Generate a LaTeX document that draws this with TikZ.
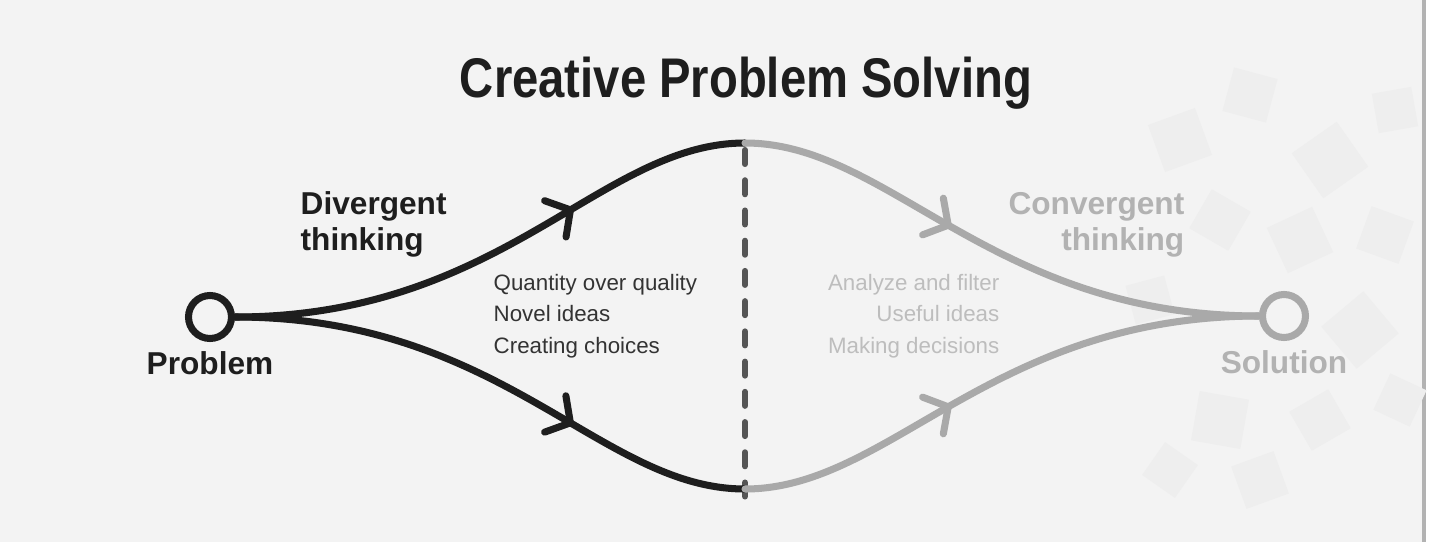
\documentclass[tikz,border=0pt]{standalone}
\usepackage{fontspec}
\setmainfont{Liberation Sans}
\usepackage{graphicx}
\usetikzlibrary{arrows.meta,decorations.markings,positioning}

\definecolor{ink}{HTML}{1E1E1E}
\definecolor{dashgray}{HTML}{555555}
\definecolor{fadeline}{HTML}{A9A9A9}
\definecolor{fadetext}{HTML}{B2B2B2}
\definecolor{fadebody}{HTML}{BDBDBD}
\definecolor{bodytext}{HTML}{333333}
\definecolor{paper}{HTML}{F3F3F3}
\definecolor{leafgray}{HTML}{EEEEEE}

\tikzset{
  flow/.style={line width=2pt, line cap=round, postaction={decorate}},
  midarrow/.style={decoration={markings, mark=at position #1 with {\arrow{Straight Barb[length=5pt,width=12pt,round]}}}},
  endpoint/.style={circle, draw, line width=2pt, minimum size=4.3mm, inner sep=0pt},
  divider/.style={dashgray, line width=1.7pt, line cap=round, dash pattern=on 4pt off 4.6pt},
  heading/.style={font=\bfseries\fontsize{9}{10.2}\selectfont, inner sep=0pt},
  notes/.style={font=\fontsize{6.35}{8.96}\selectfont, inner sep=0pt},
}

\begin{document}
\begin{tikzpicture}[x=0.1mm, y=-0.1mm]
\useasboundingbox (0,0) rectangle (1435,542);
% paper and faint tree
\fill[paper] (0,0) rectangle (1423,542);
\fill[white] (1423,0) rectangle (1435,542);
\draw[gray!60, line width=1pt] (1424,0) -- (1424,542);
\foreach \lx/\ly/\la/\ls in {1180/140/20/50, 1250/95/-15/45, 1330/160/35/55, 1395/110/10/40,
  1220/220/-30/45, 1300/240/25/50, 1385/235/-20/45, 1150/300/15/40, 1360/330/40/55,
  1220/420/-10/50, 1320/420/30/45, 1400/400/-25/40, 1260/480/20/45, 1170/470/-35/40}
  \fill[leafgray, shift={(\lx,\ly)}, rotate=\la] (-\ls/2,-\ls/2) rectangle (\ls/2,\ls/2);

\node[anchor=base, color=ink, font=\bfseries\fontsize{15.9}{18}\selectfont] (title) at (746,97)
  {\scalebox{0.845}[1]{Creative Problem Solving}};

\node[endpoint, draw=ink] (prob) at (210,317) {};
\node[heading, anchor=base, color=ink] (problabel) at (210,374) {Problem};
\node[endpoint, draw=fadeline] (sol) at (1284,316) {};
\node[heading, anchor=base, color=fadetext] (sollabel) at (1284,373) {Solution};

\coordinate (top) at (745,143);
\coordinate (bot) at (745,489);
\coordinate (dtop) at (745,150);
\coordinate (dbot) at (745,512);

\draw[divider] (dtop) -- (dbot);

\draw[flow, midarrow=0.66, color=ink] (prob.east) .. controls +(268,0) and +(-145,0) .. (top);
\draw[flow, midarrow=0.66, color=ink] (prob.east) .. controls +(268,0) and +(-145,0) .. (bot);
\draw[flow, midarrow=0.41, color=fadeline] (top) .. controls +(145,0) and +(-268,0) .. (sol.west);
\draw[flow, midarrow=0.41, color=fadeline] (bot) .. controls +(145,0) and +(-268,0) .. (sol.west);

% multi-line nodes sit on their last baseline
\node[heading, anchor=base west, align=left, color=ink] (divergent) at (300,250) {Divergent\\thinking};
\node[heading, anchor=base east, align=right, color=fadetext] (convergent) at (1185,250) {Convergent\\thinking};

\node[notes, anchor=base west, align=left, color=bodytext] (divnotes) at (493,353)
  {Quantity over quality\\Novel ideas\\Creating choices};
\node[notes, anchor=base east, align=right, color=fadebody] (convnotes) at (1000,353)
  {Analyze and filter\\Useful ideas\\Making decisions};
\end{tikzpicture}
\end{document}
